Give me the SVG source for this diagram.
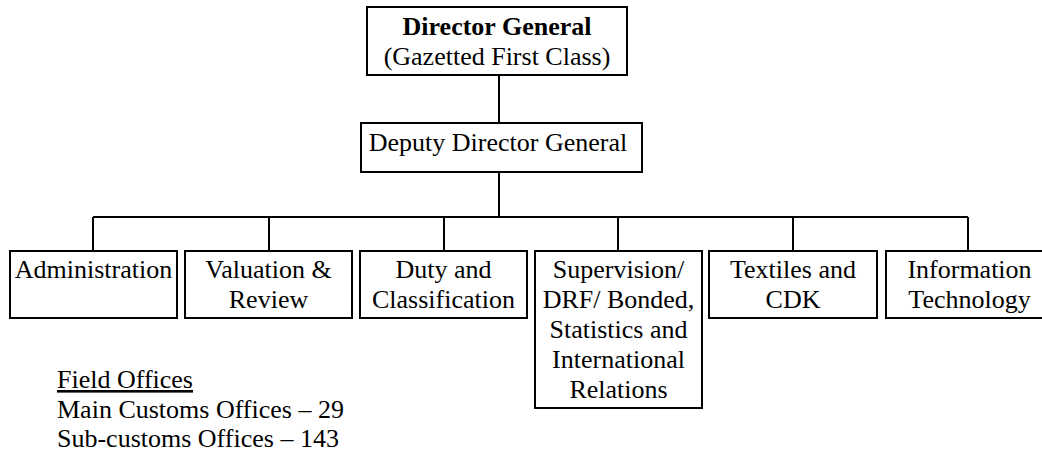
<svg xmlns="http://www.w3.org/2000/svg" width="1042" height="455" viewBox="0 0 1042 455">
<style>
.box{fill:#fff;stroke:#000;stroke-width:2}
.t{font-family:"Liberation Serif","Times New Roman",serif;font-size:26px;fill:#000;text-anchor:middle}
.l{font-family:"Liberation Serif","Times New Roman",serif;font-size:26px;fill:#000}
.b{font-weight:bold}
.c{fill:none;stroke:#000;stroke-width:2}
</style>
<rect width="1042" height="455" fill="#fff"/>
<g id="connectors">
<path class="c" d="M499 75V123M499 172V217M93 217H968M93 217V251M269 217V251M444 217V251M618 217V251M793 217V251M968 217V251"/>
</g>
<g id="director-general">
<rect class="box" x="367" y="7" width="260" height="68"/>
<text class="t b" x="497" y="35">Director General</text>
<text class="t" x="497" y="65">(Gazetted First Class)</text>
</g>
<g id="deputy-director-general">
<rect class="box" x="361" y="123" width="281" height="49"/>
<text class="t" x="498" y="151">Deputy Director General</text>
</g>
<g id="administration">
<rect class="box" x="10" y="251" width="167" height="67"/>
<text class="t" x="93.5" y="278">Administration</text>
</g>
<g id="valuation-review">
<rect class="box" x="185" y="251" width="167" height="67"/>
<text class="t" x="268.5" y="278">Valuation &amp;</text>
<text class="t" x="268.5" y="308">Review</text>
</g>
<g id="duty-classification">
<rect class="box" x="360" y="251" width="167" height="67"/>
<text class="t" x="443.5" y="278">Duty and</text>
<text class="t" x="443.5" y="308">Classification</text>
</g>
<g id="supervision">
<rect class="box" x="535" y="251" width="167" height="157"/>
<text class="t" x="618.5" y="278">Supervision/</text>
<text class="t" x="618.5" y="308">DRF/ Bonded,</text>
<text class="t" x="618.5" y="338">Statistics and</text>
<text class="t" x="618.5" y="368">International</text>
<text class="t" x="618.5" y="398">Relations</text>
</g>
<g id="textiles-cdk">
<rect class="box" x="709" y="251" width="168" height="67"/>
<text class="t" x="793" y="278">Textiles and</text>
<text class="t" x="793" y="308">CDK</text>
</g>
<g id="information-technology">
<rect class="box" x="886" y="251" width="167" height="67"/>
<text class="t" x="969.5" y="278">Information</text>
<text class="t" x="969.5" y="308">Technology</text>
</g>
<g id="field-offices">
<text class="l" x="57" y="388" text-decoration="underline">Field Offices</text>
<text class="l" x="57" y="418">Main Customs Offices – 29</text>
<text class="l" x="57" y="447">Sub-customs Offices – 143</text>
</g>
</svg>
